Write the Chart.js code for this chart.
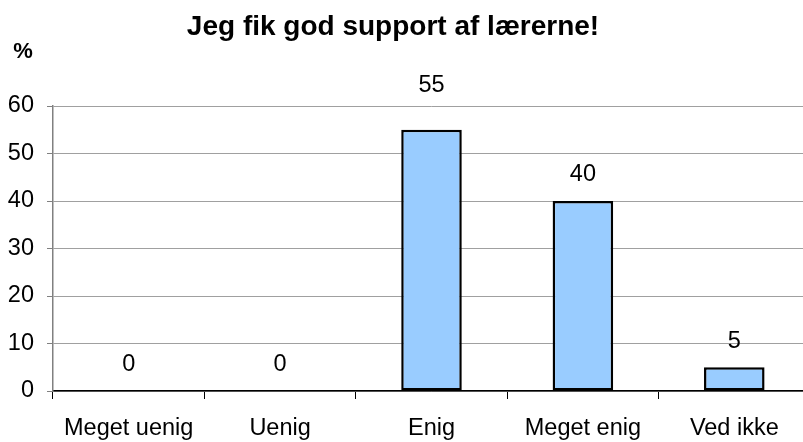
<!DOCTYPE html>
<html>
<head>
<meta charset="utf-8">
<script src="https://cdn.jsdelivr.net/npm/chart.js@4.4.0/dist/chart.umd.min.js"></script>
<style>
  html, body { margin: 0; padding: 0; background: #fff; overflow: hidden; }
  #wrap { position: absolute; left: 0; top: 0; width: 810px; height: 442px; }
</style>
</head>
<body>
<div id="wrap"><canvas id="myBarChart"></canvas></div>
<script>
var chartTitle = 'Jeg fik god support af lærerne!';
var unitLabel = '%';
var categories = ['Meget uenig', 'Uenig', 'Enig', 'Meget enig', 'Ved ikke'];
var percentValues = [0, 0, 55, 40, 5];
var yTicks = [0, 10, 20, 30, 40, 50, 60];

var fontFamily = '"Liberation Sans", Arial, sans-serif';

// title, % label and value labels drawn on top
var decorPlugin = {
    id: 'decor',
    afterDatasetsDraw: function(chart) {
        var c = chart.ctx;
        var area = chart.chartArea;
        c.save();
        c.fillStyle = '#000';
        c.font = 'bold 28px ' + fontFamily;
        c.textAlign = 'center';
        c.textBaseline = 'alphabetic';
        c.fillText(chartTitle, 393, 35);

        c.font = 'bold 22px ' + fontFamily;
        c.textBaseline = 'middle';
        c.fillText(unitLabel, 23, 52);

        c.font = '23.5px ' + fontFamily;
        var meta = chart.getDatasetMeta(0);
        meta.data.forEach(function(bar, i) {
            var y = bar.y - 26;
            if (y > area.top - 14 && y < area.top + 14) {
                y = area.top - 20;
            }
            c.fillText(String(percentValues[i]), bar.x, y);
        });
        c.restore();
    }
};

var ctx = document.getElementById('myBarChart').getContext('2d');
var myBarChart = new Chart(ctx, {
    type: 'bar',
    data: {
        labels: categories,
        datasets: [{
            data: percentValues,
            backgroundColor: '#99ccff',
            borderColor: '#000',
            borderWidth: function(c) { return c.raw === 0 ? 0 : 2.5; },
            borderSkipped: false,
            categoryPercentage: 1.0,
            barPercentage: 0.4
        }]
    },
    options: {
        responsive: true,
        maintainAspectRatio: false,
        animation: false,
        layout: { padding: { top: 106, left: 0, right: 0, bottom: 0 } },
        plugins: {
            legend: { display: false },
            title: { display: false },
            tooltip: { enabled: false }
        },
        scales: {
            x: {
                grid: {
                    offset: true,
                    drawOnChartArea: false,
                    drawTicks: true,
                    tickLength: 8,
                    color: '#000'
                },
                border: { color: '#000', width: 1.5 },
                ticks: {
                    color: '#000',
                    padding: 15,
                    font: { family: fontFamily, size: 23.5 }
                },
                afterFit: function(s) { s.height = 51; }
            },
            y: {
                min: 0,
                max: 60,
                afterBuildTicks: function(s) {
                    s.ticks = yTicks.map(function(v) { return { value: v }; });
                },
                grid: {
                    color: '#a0a0a0',
                    lineWidth: 1,
                    tickLength: 6,
                    tickColor: '#808080'
                },
                border: { color: '#808080', width: 1.5 },
                ticks: {
                    color: '#000',
                    padding: 13,
                    font: { family: fontFamily, size: 23.5 }
                },
                afterFit: function(s) { s.width = 53; }
            }
        }
    },
    plugins: [decorPlugin]
});
</script>
</body>
</html>
